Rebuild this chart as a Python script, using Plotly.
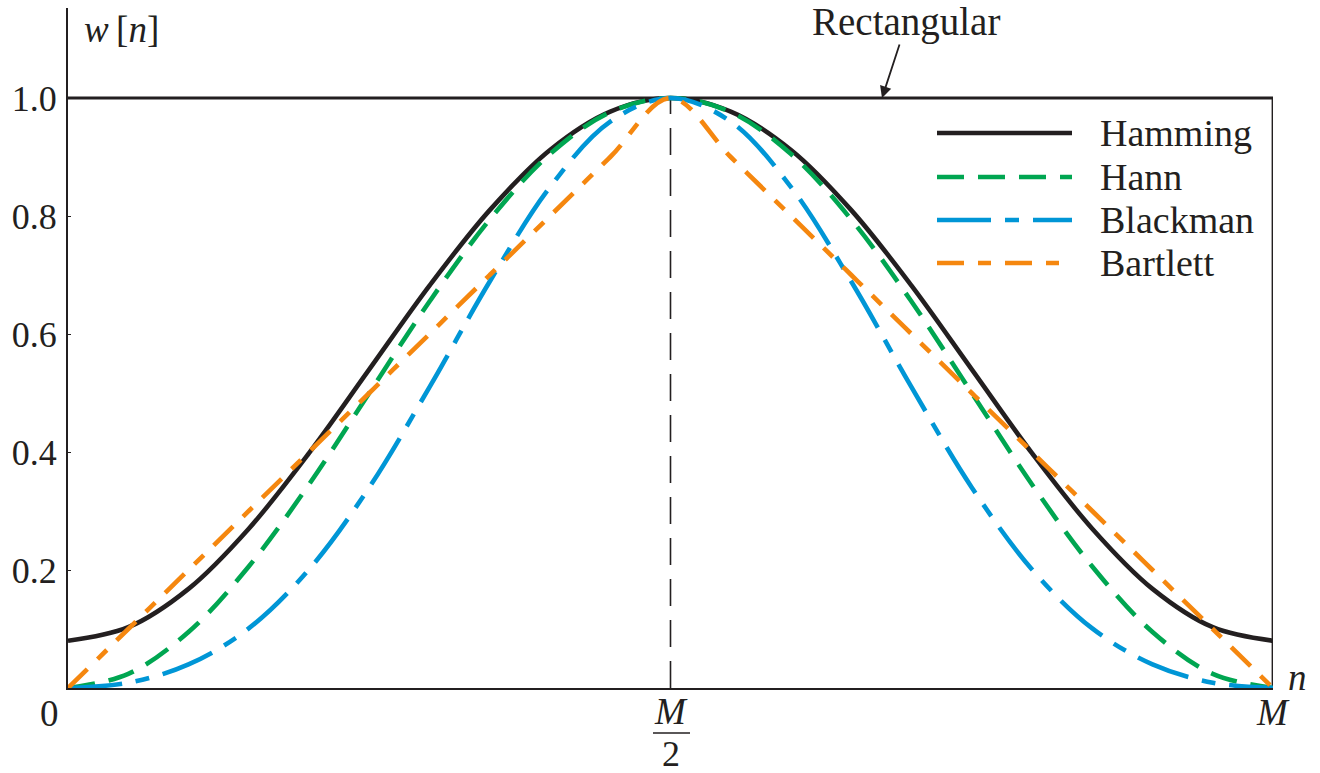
import plotly.graph_objects as go

# Sample positions along the window, expressed as n / M
n_frac = [0.00, 0.05, 0.10, 0.15, 0.20, 0.25, 0.30, 0.35, 0.40, 0.45, 0.50,
          0.55, 0.60, 0.65, 0.70, 0.75, 0.80, 0.85, 0.90, 0.95, 1.00]

hamming = [0.080, 0.103, 0.168, 0.270, 0.398, 0.540, 0.682, 0.810, 0.912, 0.977, 1.000,
           0.977, 0.912, 0.810, 0.682, 0.540, 0.398, 0.270, 0.168, 0.103, 0.080]
hann = [0.000, 0.024, 0.095, 0.206, 0.345, 0.500, 0.655, 0.794, 0.905, 0.976, 1.000,
        0.976, 0.905, 0.794, 0.655, 0.500, 0.345, 0.206, 0.095, 0.024, 0.000]
blackman = [0.000, 0.009, 0.040, 0.101, 0.201, 0.340, 0.510, 0.689, 0.849, 0.960, 1.000,
            0.960, 0.849, 0.689, 0.510, 0.340, 0.201, 0.101, 0.040, 0.009, 0.000]
bartlett = [0.0, 0.1, 0.2, 0.3, 0.4, 0.5, 0.6, 0.7, 0.8, 0.9, 1.0,
            0.9, 0.8, 0.7, 0.6, 0.5, 0.4, 0.3, 0.2, 0.1, 0.0]

# Rectangular window: flat at 1 across 0..M, dropping to 0 at n = M
rect_x = [0.0, 1.0, 1.0]
rect_y = [1.0, 1.0, 0.0]

y_ticks = [0.2, 0.4, 0.6, 0.8, 1.0]
y_ticktext = ["0.2", "0.4", "0.6", "0.8", "1.0"]

INK = "#231f20"
SERIF = "Liberation Serif"

W, H = 1320, 773
L, R, T, B = 68, 47, 8, 85
plot_w = W - L - R
plot_h = H - T - B


def px_x(px):
    return (px - L) / plot_w


def px_y(py):
    return (H - B - py) / plot_h


fig = go.Figure()

fig.add_trace(go.Scatter(x=rect_x, y=rect_y, mode="lines", showlegend=False,
                         line=dict(color=INK, width=2.8), hoverinfo="skip"))

series = [
    ("Hamming", hamming, INK, "solid"),
    ("Hann", hann, "#00a651", "27px,14px"),
    ("Blackman", blackman, "#0096d6", "54px,14px,14px,14px"),
    ("Bartlett", bartlett, "#f5870f", "27px,14px,13px,14px"),
]
for name, vals, color, dash in series:
    fig.add_trace(go.Scatter(
        x=n_frac, y=vals, name=name, mode="lines", showlegend=False,
        line=dict(color=color, width=4.6, dash=dash, shape="spline"),
    ))

annotations = [
    dict(text="<i>w</i>\u2009[<i>n</i>]", xref="paper", yref="paper",
         x=px_x(82), y=px_y(30), xanchor="left", yanchor="middle",
         showarrow=False, font=dict(size=37)),
    dict(text="Rectangular", xref="paper", yref="paper",
         x=px_x(906), y=px_y(22), xanchor="center", yanchor="middle",
         showarrow=False, font=dict(size=39)),
    dict(text="", xref="x", yref="y", x=px_x(882), y=1.0,
         ax=18, ay=-55, showarrow=True, arrowhead=2, arrowsize=1.3,
         arrowwidth=1.8, arrowcolor=INK),
    dict(text="0", xref="x", yref="y", x=0, y=0, xshift=-19, yshift=-25,
         showarrow=False, font=dict(size=37)),
    dict(text="<i>M</i>", xref="x", yref="y", x=1, y=0, yshift=-24,
         showarrow=False, font=dict(size=37)),
    dict(text="<i>M</i>", xref="x", yref="y", x=0.5, y=0, yshift=-23,
         showarrow=False, font=dict(size=37)),
    dict(text="2", xref="x", yref="y", x=0.5, y=0, yshift=-66,
         showarrow=False, font=dict(size=36)),
    dict(text="<i>n</i>", xref="x", yref="y", x=1, y=0, xshift=24, yshift=11,
         showarrow=False, font=dict(size=37)),
]

shapes = [
    # marker at the window centre n = M/2
    dict(type="line", xref="x", yref="y", x0=0.5, x1=0.5, y0=0, y1=1,
         line=dict(color=INK, width=1.6, dash="27px,14px"), layer="below"),
    # fraction bar of the M/2 label
    dict(type="line", xref="paper", yref="paper",
         x0=px_x(653), x1=px_x(690), y0=px_y(733), y1=px_y(733),
         line=dict(color=INK, width=1.6)),
]

# Key: sample line plus label for each window
key_rows = [133, 177, 220, 263]
for (name, _, color, dash), row in zip(series, key_rows):
    shapes.append(dict(type="line", xref="paper", yref="paper",
                       x0=px_x(937), x1=px_x(1072), y0=px_y(row), y1=px_y(row),
                       line=dict(color=color, width=4.6, dash=dash)))
    annotations.append(dict(text=name, xref="paper", yref="paper",
                            x=px_x(1098), y=px_y(row), xanchor="left", yanchor="middle",
                            showarrow=False, font=dict(size=38)))

fig.update_layout(
    width=W, height=H,
    margin=dict(l=L, r=R, t=T, b=B, pad=0),
    paper_bgcolor="white", plot_bgcolor="white",
    font=dict(family=SERIF, size=36, color=INK),
    showlegend=False,
    annotations=annotations,
    shapes=shapes,
)

fig.update_xaxes(range=[0, 1], showgrid=False, zeroline=False, showline=True,
                 linecolor=INK, linewidth=2, showticklabels=False, ticks="")
fig.update_yaxes(range=[0, (H - B - T) / (H - B - 98)], showgrid=False, zeroline=False,
                 showline=True, linecolor=INK, linewidth=2,
                 ticks="inside", ticklen=3, tickwidth=1, tickcolor=INK,
                 tickvals=y_ticks, ticktext=y_ticktext, ticklabelstandoff=2,
                 tickfont=dict(size=36))

fig.write_html("out.html")
